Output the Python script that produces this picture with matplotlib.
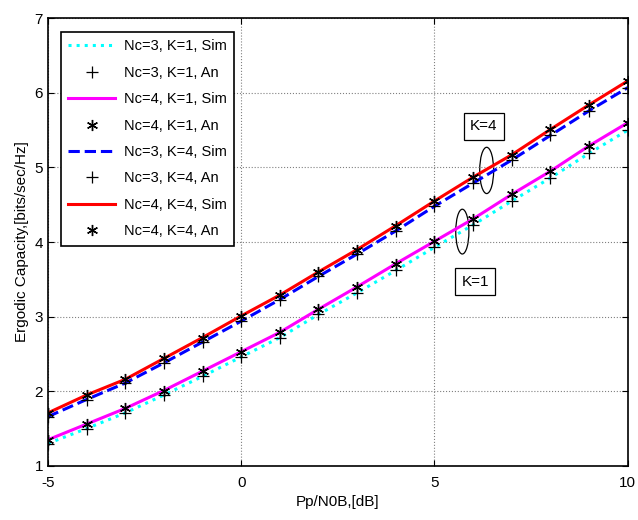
import matplotlib
matplotlib.use("Agg")
import matplotlib.pyplot as plt
from matplotlib.patches import Ellipse

plt.rcParams['font.family'] = ['Liberation Sans', 'DejaVu Sans']
plt.rcParams['axes.unicode_minus'] = False

snr_db = [-5, -4, -3, -2, -1, 0, 1, 2, 3, 4, 5, 6, 7, 8, 9, 10]
nc4_k4 = [1.71, 1.95, 2.16, 2.44, 2.72, 3.01, 3.29, 3.60, 3.90, 4.22, 4.55, 4.87, 5.17, 5.51, 5.84, 6.16]
nc3_k4 = [1.66, 1.89, 2.11, 2.38, 2.66, 2.94, 3.23, 3.54, 3.84, 4.15, 4.48, 4.79, 5.10, 5.43, 5.76, 6.07]
nc4_k1 = [1.35, 1.56, 1.77, 2.01, 2.27, 2.53, 2.79, 3.10, 3.40, 3.71, 4.01, 4.31, 4.64, 4.95, 5.29, 5.60]
nc3_k1 = [1.30, 1.50, 1.71, 1.95, 2.20, 2.46, 2.72, 3.03, 3.32, 3.62, 3.93, 4.23, 4.55, 4.86, 5.19, 5.50]

labels = ["Nc=3, K=1, Sim", "Nc=3, K=1, An", "Nc=4, K=1, Sim", "Nc=4, K=1, An",
          "Nc=3, K=4, Sim", "Nc=3, K=4, An", "Nc=4, K=4, Sim", "Nc=4, K=4, An"]

fig = plt.figure(figsize=(6.38, 5.2), dpi=100)
ax = fig.add_axes([0.075, 0.104, 0.909, 0.861])

ast = (6, 2, 0)
ax.plot(snr_db, nc3_k1, ':', color='cyan', lw=2.2, label=labels[0])
ax.plot(snr_db, nc3_k1, '+', color='black', ms=9, mew=0.9, ls='none', label=labels[1])
ax.plot(snr_db, nc4_k1, '-', color='magenta', lw=2.2, label=labels[2])
ax.plot(snr_db, nc4_k1, marker=ast, color='black', ms=8, mew=1.0, ls='none', label=labels[3])
ax.plot(snr_db, nc3_k4, '--', color='blue', lw=2.2, label=labels[4])
ax.plot(snr_db, nc3_k4, '+', color='black', ms=9, mew=0.9, ls='none', label=labels[5])
ax.plot(snr_db, nc4_k4, '-', color='red', lw=2.2, label=labels[6])
ax.plot(snr_db, nc4_k4, marker=ast, color='black', ms=8, mew=1.0, ls='none', label=labels[7])

ax.set_xlim(-5, 10)
ax.set_ylim(1, 7)
ax.set_xticks([-5, 0, 5, 10])
ax.set_yticks([1, 2, 3, 4, 5, 6, 7])
ax.grid(True, ls=':', color='gray', lw=0.8)
ax.tick_params(direction='in', labelsize=11, top=True, right=True, length=4)
ax.tick_params(axis='x', pad=7)
for s in ax.spines.values():
    s.set_linewidth(1.2)

ax.set_xlabel("Pp/N0B,[dB]", fontsize=11)
ax.set_ylabel("Ergodic Capacity,[bits/sec/Hz]", fontsize=11)

leg = ax.legend(loc='upper left', bbox_to_anchor=(0.01, 0.985), fontsize=10.5,
                frameon=True, fancybox=False, edgecolor='black', framealpha=1,
                handlelength=3.2, labelspacing=0.85, borderpad=0.5, handletextpad=0.6)
leg.get_frame().set_linewidth(1.2)

ax.add_patch(Ellipse((6.35, 4.96), 0.36, 0.62, fill=False, ec='black', lw=0.9))
ax.add_patch(Ellipse((5.72, 4.14), 0.34, 0.60, fill=False, ec='black', lw=0.9))
ax.text(6.28, 5.55, "K=4", fontsize=11, ha='center', va='center',
        bbox=dict(boxstyle='square,pad=0.4', fc='white', ec='black', lw=0.9))
ax.text(6.05, 3.47, "K=1", fontsize=11, ha='center', va='center',
        bbox=dict(boxstyle='square,pad=0.4', fc='white', ec='black', lw=0.9))

fig.savefig("out.png", dpi=100)
